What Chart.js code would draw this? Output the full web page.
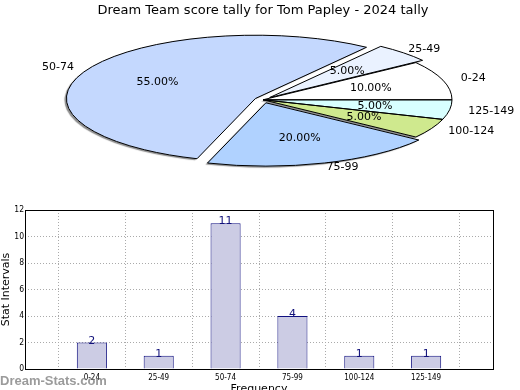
<!DOCTYPE html>
<html>
<head>
<meta charset="utf-8">
<script src="https://cdn.jsdelivr.net/npm/chart.js@4.4.1/dist/chart.umd.min.js"></script>
<style>
  body { margin: 0; background: #fff; }
  #wrap { position: relative; width: 520px; height: 390px; overflow: hidden; }
  #pieBox { position: absolute; left: 0; top: 0; width: 520px; height: 200px; }
  #barBox { position: absolute; left: 0; top: 200px; width: 520px; height: 196px; }
  #mark { position: absolute; left: 0; top: 373px; font: bold 13px "Liberation Sans", sans-serif; color: rgba(130,130,130,0.8); }
</style>
</head>
<body>
<div id="wrap">
  <div id="pieBox"><canvas id="pie"></canvas></div>
  <div id="barBox"><canvas id="bar"></canvas></div>
  <div id="mark">Dream-Stats.com</div>
</div>
<script>
const categories = ['0-24', '25-49', '50-74', '75-99', '100-124', '125-149'];
const counts = [2, 1, 11, 4, 1, 1];
const explode = [0, 0.05, 0.045, 0.05, 0, 0];
const sliceColors = ['#ffffff', '#eaf2ff', '#c4d8fe', '#b0d2ff', '#cfe98e', '#d8ffff'];
const yTicks = [0, 2, 4, 6, 8, 10, 12];

const squash = 0.335;
const total = counts.reduce((a, b) => a + b, 0);

function drawArcPath(ctx, arc, d) {
    const mid = (arc.startAngle + arc.endAngle) / 2;
    const ox = arc.x + Math.cos(mid) * d;
    const oy = arc.y + Math.sin(mid) * d;
    ctx.beginPath();
    ctx.moveTo(ox, oy);
    ctx.arc(ox, oy, arc.outerRadius, arc.startAngle, arc.endAngle);
    ctx.closePath();
}

function squashAt(ctx, arc) {
    ctx.translate(arc.x, arc.y);
    ctx.scale(1, -squash);
    ctx.translate(-arc.x, -arc.y);
}

// draws the pie squashed into an ellipse, like the old matplotlib output
const squashPie = {
    id: 'squashPie',
    beforeDatasetDraw(chart) {
        const ctx = chart.ctx;
        const arcs = chart.getDatasetMeta(0).data;
        ctx.save();
        squashAt(ctx, arcs[0]);
        // shadows first
        ctx.save();
        ctx.shadowColor = 'rgba(0,0,0,0.45)';
        ctx.shadowOffsetX = -2;
        ctx.shadowOffsetY = 1.5;
        ctx.shadowBlur = 1;
        arcs.forEach((arc, i) => {
            drawArcPath(ctx, arc, explode[i] * arc.outerRadius);
            ctx.fillStyle = sliceColors[i];
            ctx.fill();
        });
        ctx.restore();
        arcs.forEach((arc, i) => {
            drawArcPath(ctx, arc, explode[i] * arc.outerRadius);
            ctx.fillStyle = sliceColors[i];
            ctx.fill();
        });
        ctx.restore();
        // outlines drawn unscaled so the line width stays even
        arcs.forEach((arc, i) => {
            ctx.save();
            squashAt(ctx, arc);
            drawArcPath(ctx, arc, explode[i] * arc.outerRadius);
            ctx.restore();
            ctx.lineWidth = 1;
            ctx.strokeStyle = '#000';
            ctx.stroke();
        });
        return false;
    },
    afterDraw(chart) {
        const ctx = chart.ctx;
        const arcs = chart.getDatasetMeta(0).data;
        ctx.save();
        ctx.fillStyle = '#000';
        ctx.font = '11px "DejaVu Sans", sans-serif';
        ctx.textBaseline = 'middle';
        arcs.forEach((arc, i) => {
            const mid = (arc.startAngle + arc.endAngle) / 2;
            const r = arc.outerRadius;
            const d = explode[i] * r;
            const c = Math.cos(mid), s = Math.sin(mid);
            const lx = arc.x + c * (1.1 * r + (c > 0 ? -d / 4 : d / 2));
            const ly = arc.y - squash * s * (1.1 * r + d / 2);
            ctx.textAlign = c > 0 ? 'left' : 'right';
            ctx.fillText(categories[i], lx, ly);
            const px = arc.x + c * (0.6 * r + d * 0.6);
            const py = arc.y - squash * s * (0.6 * r + d * 0.6);
            ctx.textAlign = 'center';
            ctx.fillText((counts[i] / total * 100).toFixed(2) + '%', px, py);
        });
        ctx.restore();
    }
};

new Chart(document.getElementById('pie'), {
    type: 'pie',
    data: {
        labels: categories,
        datasets: [{ data: counts, backgroundColor: sliceColors, borderColor: '#000', borderWidth: 1 }]
    },
    options: {
        responsive: true,
        maintainAspectRatio: false,
        animation: false,
        rotation: 90,
        radius: 189,
        layout: { padding: { left: 6, bottom: 19 } },
        plugins: {
            legend: { display: false },
            tooltip: { enabled: false },
            title: {
                display: true,
                text: 'Dream Team score tally for Tom Papley - 2024 tally',
                color: '#000',
                font: { family: 'DejaVu Sans', size: 13, weight: 'normal' },
                padding: { top: 3, bottom: 0 }
            }
        }
    },
    plugins: [squashPie]
});

const barLabels = {
    id: 'barLabels',
    afterDatasetsDraw(chart) {
        const ctx = chart.ctx;
        ctx.save();
        ctx.fillStyle = '#10107a';
        ctx.font = '11px "DejaVu Sans", sans-serif';
        ctx.textAlign = 'center';
        ctx.textBaseline = 'alphabetic';
        chart.getDatasetMeta(0).data.forEach((bar, i) => {
            ctx.fillText(String(counts[i]), bar.x, bar.y + 1);
        });
        ctx.restore();
    }
};

new Chart(document.getElementById('bar'), {
    type: 'bar',
    data: {
        datasets: [{
            data: counts.map((v, i) => ({ x: i, y: v })),
            backgroundColor: '#ccccE4',
            borderColor: '#101080',
            borderWidth: 1,
            barPercentage: 0.45,
            categoryPercentage: 1
        }]
    },
    options: {
        responsive: true,
        maintainAspectRatio: false,
        animation: false,
        layout: { padding: { top: 10, right: 27 } },
        plugins: { legend: { display: false }, tooltip: { enabled: false } },
        scales: {
            x: {
                type: 'linear',
                offset: false,
                min: -1,
                max: 6,
                afterBuildTicks(scale) { scale.ticks = categories.map((c, i) => ({ value: i })); },
                afterFit(scale) { scale.height = 27; },
                ticks: {
                    callback: (v) => categories[v],
                    color: '#000',
                    font: { family: 'DejaVu Sans Condensed', size: 8 },
                    padding: 4,
                    maxRotation: 0
                },
                grid: { color: '#aaaaaa', drawTicks: false, lineWidth: 1 },
                border: { display: false, dash: [1, 2] },
                title: {
                    display: true,
                    text: 'Frequency',
                    color: '#000',
                    font: { family: 'DejaVu Sans', size: 11 },
                    padding: { top: 0, bottom: 0 }
                }
            },
            y: {
                min: 0,
                max: 12,
                afterBuildTicks(scale) { scale.ticks = yTicks.map(v => ({ value: v })); },
                afterFit(scale) { scale.width = 25; },
                ticks: {
                    color: '#000',
                    font: { family: 'DejaVu Sans Condensed', size: 8.5 },
                    padding: 1
                },
                grid: { color: '#aaaaaa', drawTicks: false },
                border: { display: false, dash: [1, 2] },
                title: {
                    display: true,
                    text: 'Stat Intervals',
                    color: '#000',
                    font: { family: 'DejaVu Sans', size: 11 },
                    padding: { top: 0, bottom: 2 }
                }
            }
        }
    },
    plugins: [barLabels, {
        id: 'frame',
        beforeDatasetsDraw(chart) {
            // solid axes box
            const { ctx, chartArea: a } = chart;
            ctx.save();
            ctx.strokeStyle = '#000';
            ctx.lineWidth = 1;
            ctx.setLineDash([]);
            ctx.strokeRect(Math.round(a.left) + 0.5, Math.round(a.top) + 0.5, Math.round(a.right - a.left), Math.round(a.bottom - a.top));
            ctx.restore();
        }
    }]
});
</script>
</body>
</html>
